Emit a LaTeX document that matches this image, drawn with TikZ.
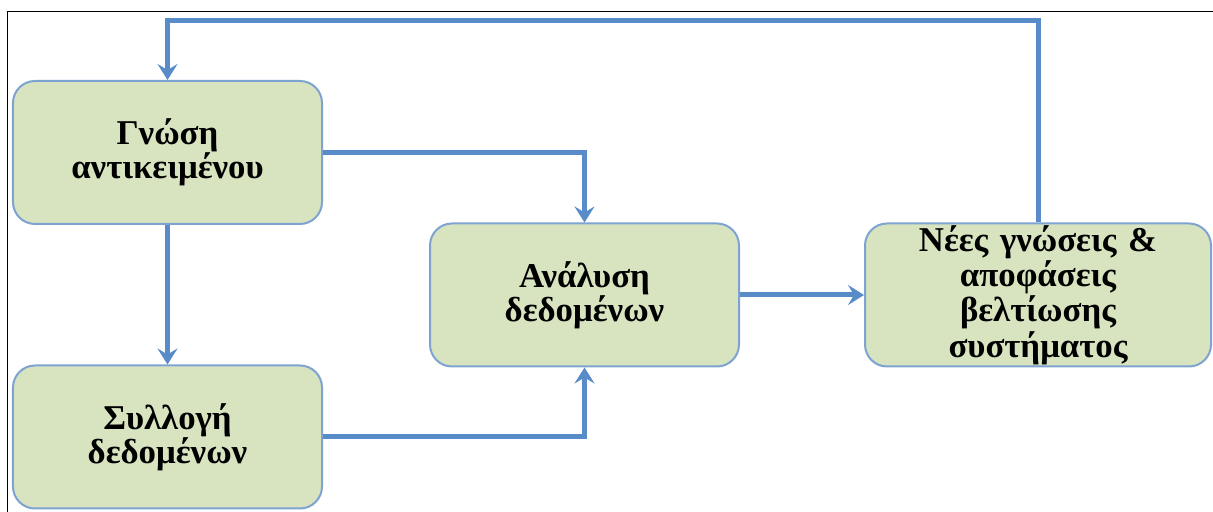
\documentclass[tikz,border=0pt]{standalone}
\usepackage{fontspec}
\setmainfont{Liberation Serif}
\usetikzlibrary{shapes.geometric,arrows.meta}
\definecolor{flowblue}{RGB}{88,140,200}
\definecolor{boxedge}{RGB}{126,163,209}
\definecolor{boxfill}{RGB}{216,228,192}
\tikzstyle{block} = [rectangle, draw=boxedge, line width=1pt, fill=boxfill, text width=150pt, align=center, rounded corners=11pt, minimum width=154.5pt, minimum height=71.5pt, inner sep=0pt, font=\fontsize{17.4}{17}\selectfont\bfseries]
\tikzstyle{line} = [draw=flowblue, line width=2.5pt, -{Stealth[length=8pt,width=10pt,inset=3pt]}]

\begin{document}
\begin{tikzpicture}[node distance=142.25pt, auto]
  \useasboundingbox (-83.75pt,-179.75pt) rectangle (522.75pt,76.25pt);
  \node [block] (know) {Γνώση\\αντικειμένου};
  \node [block, below of=know] (collect) {Συλλογή\\δεδομένων};
  \node [block, right of=know, xshift=66.25pt, yshift=-71.25pt] (analysis) {Ανάλυση\\δεδομένων};
  \node [block, right of=analysis, xshift=84.5pt, minimum width=173pt, text width=170pt, font=\fontsize{17.4}{16.6}\selectfont\bfseries] (decide) {Νέες γνώσεις \&\\αποφάσεις\\βελτίωσης\\συστήματος};

  % outer frame
  \draw [line width=0.5pt] (-79.75pt,-179.75pt) -- (-79.75pt,70.25pt) -- (522.75pt,70.25pt);

  \path [line] (know) -- (collect);
  \path [line] (know.east) -| (analysis.north);
  \path [line] (collect.east) -| (analysis.south);
  \path [line] (analysis) -- (decide);
  \path [line] (decide.north) -- ++(0,101pt) -| (know.north);
\end{tikzpicture}
\end{document}
